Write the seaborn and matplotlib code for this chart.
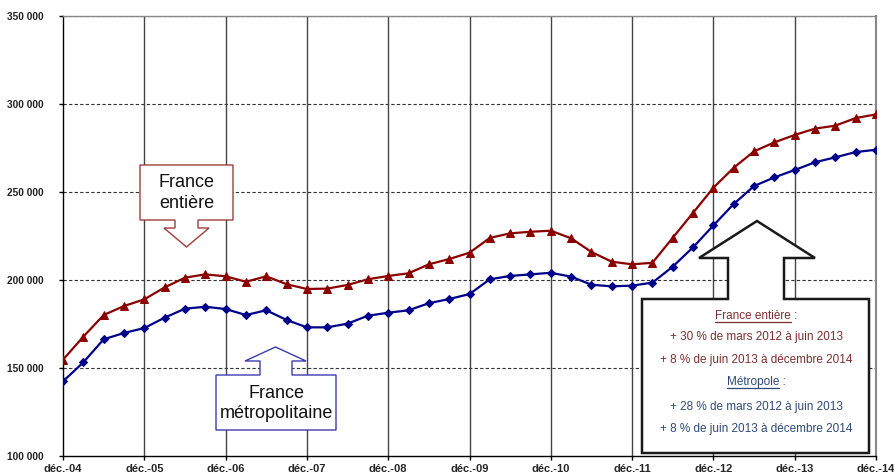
import matplotlib
matplotlib.use("Agg")
import matplotlib.pyplot as plt
from matplotlib.patches import Polygon
from matplotlib.lines import Line2D
import seaborn as sns
import pandas as pd

# quarterly values, déc. 2004 -> déc. 2014
france_entiere = [154700, 167800, 180100, 185200, 189000, 195800, 201300, 203200, 202100, 199000,
                  202100, 197600, 194900, 195100, 197200, 200400, 202300, 203800, 208900, 211900,
                  215500, 223900, 226500, 227400, 228000, 223700, 215900, 210400, 208900, 209800,
                  224000, 238200, 252400, 263800, 273100, 278200, 282400, 286000, 287700, 292000,
                  294100]
metropole = [142400, 153200, 166300, 169900, 172700, 178600, 183700, 184800, 183500, 180100,
             182800, 177300, 173100, 173100, 175200, 179700, 181400, 182800, 186800, 189200,
             192000, 200400, 202300, 203200, 204100, 201900, 197300, 196400, 196800, 198500,
             207600, 218600, 231000, 243200, 253400, 258300, 262500, 266900, 269700, 272700,
             274000]
year_labels = ['déc.-04', 'déc.-05', 'déc.-06', 'déc.-07', 'déc.-08', 'déc.-09',
               'déc.-10', 'déc.-11', 'déc.-12', 'déc.-13', 'déc.-14']
y_ticks = [100000, 150000, 200000, 250000, 300000, 350000]

df = pd.DataFrame({'trimestre': range(len(france_entiere)),
                   'France entière': france_entiere,
                   'Métropole': metropole})

sns.set_style("white")
plt.rcParams['font.family'] = ['Liberation Sans', 'DejaVu Sans']

W, H = 894, 476
fig = plt.figure(figsize=(W / 100, H / 100), dpi=100)
ax = fig.add_axes([63 / W, 20 / H, (876 - 63) / W, (456 - 16) / H])

def px(x, y):
    # pixel position (from top-left) -> figure fraction
    return (x / W, 1 - y / H)

RED = '#8b0000'
BLUE = '#00008b'

# grid first so lines sit on top
for v in y_ticks[1:]:
    ax.axhline(v, color='#333333', lw=0.8, ls=(0, (3, 2)), zorder=0)
for i in range(1, len(year_labels) - 1):
    ax.axvline(i * 4, color='#444444', lw=1.0, zorder=0)

sns.lineplot(data=df, x='trimestre', y='France entière', ax=ax, color=RED, lw=1.6,
             marker='^', markersize=6, markeredgecolor=RED, zorder=3)
sns.lineplot(data=df, x='trimestre', y='Métropole', ax=ax, color=BLUE, lw=1.6,
             marker='D', markersize=4, markeredgecolor=BLUE, zorder=3)

ax.set_xlim(0, 40)
ax.set_ylim(100000, 350000)
ax.set_xticks(range(0, 41, 4))
ax.set_xticklabels(year_labels, fontsize=8, fontweight='bold')
ax.set_yticks(y_ticks)
ax.set_yticklabels([f"{v:,}".replace(',', ' ') for v in y_ticks], fontsize=7.3,
                   fontweight='bold', color='#222222')
ax.tick_params(axis='both', direction='out', length=3, width=1, color='black',
               left=True, bottom=True)
ax.tick_params(axis='y', pad=11)
ax.tick_params(axis='x', pad=3)
ax.set_xlabel('')
ax.set_ylabel('')
for s in ['left', 'bottom']:
    ax.spines[s].set_color('black')
    ax.spines[s].set_linewidth(1)
ax.spines['right'].set_color('#888888')
ax.spines['right'].set_linewidth(1.5)
ax.spines['top'].set_color('#888888')
ax.spines['top'].set_linewidth(1)

# callout: France entière (down arrow)
pts = [(140, 165), (233, 165), (233, 220), (198, 220), (198, 228), (209, 228), (186.5, 247),
       (164, 228), (175, 228), (175, 220), (140, 220)]
fig.patches.append(Polygon([px(*p) for p in pts], closed=True, transform=fig.transFigure,
                           facecolor='white', edgecolor='#a03c3c', lw=1.0, zorder=5))
fig.text(*px(186.5, 193), 'France\nentière', ha='center', va='center', fontsize=13,
         linespacing=1.28, color='#111111', zorder=6)

# callout: France métropolitaine (up arrow)
pts = [(216, 375), (260, 375), (260, 361), (245, 361), (275.5, 347), (306, 361), (292, 361),
       (292, 375), (336, 375), (336, 430), (216, 430)]
fig.patches.append(Polygon([px(*p) for p in pts], closed=True, transform=fig.transFigure,
                           facecolor='white', edgecolor='#3c3cb4', lw=1.0, zorder=5))
fig.text(*px(276, 403.5), 'France\nmétropolitaine', ha='center', va='center', fontsize=13,
         linespacing=1.28, color='#111111', zorder=6)

# big black callout with the growth figures
pts = [(642, 299), (728, 299), (728, 258), (699, 258), (757, 221), (815, 258), (784, 258),
       (784, 299), (869, 299), (869, 453), (642, 453)]
fig.patches.append(Polygon([px(*p) for p in pts], closed=True, transform=fig.transFigure,
                           facecolor='white', edgecolor='#1a1a1a', lw=1.8, zorder=5))

TRED = '#7f2f2f'
TBLUE = '#2f4a7a'
lines = [(316, 'France entière :', TRED, 'France entière'),
         (337, '+ 30 % de mars 2012 à juin 2013', TRED, None),
         (360, '+ 8 % de juin 2013 à décembre 2014', TRED, None),
         (382, 'Métropole :', TBLUE, 'Métropole'),
         (407, '+ 28 % de mars 2012 à juin 2013', TBLUE, None),
         (429, '+ 8 % de juin 2013 à décembre 2014', TBLUE, None)]
cx = 756
fs = 8.5
texts = []
for y, s, c, ul in lines:
    t = fig.text(*px(cx, y), s, ha='center', va='center', fontsize=fs, color=c, zorder=6)
    texts.append((t, y, c, ul))

fig.canvas.draw()
r = fig.canvas.get_renderer()
for t, y, c, ul in texts:
    if ul is None:
        continue
    full = t.get_window_extent(r)
    tmp = fig.text(0, 0, ul, fontsize=fs)
    w = tmp.get_window_extent(r).width
    tmp.remove()
    x0 = full.x0 / W
    x1 = (full.x0 + w) / W
    yy = (full.y0 + 0.5) / H
    fig.add_artist(Line2D([x0, x1], [yy, yy], transform=fig.transFigure, color=c, lw=0.9,
                          zorder=6))

fig.savefig('out.png', dpi=100)
